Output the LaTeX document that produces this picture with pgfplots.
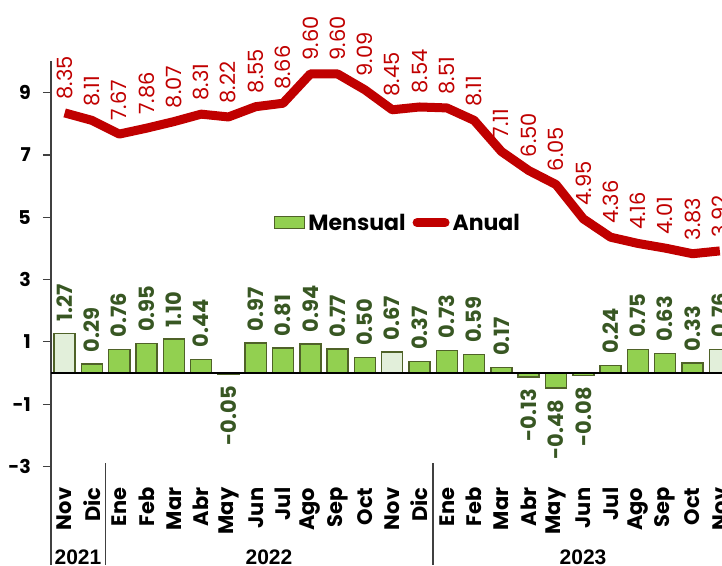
\documentclass[border=0pt]{standalone}
\usepackage{fontspec}
\setmainfont{Poppins}
\newfontfamily\yearfont{Liberation Sans}
\usepackage{pgfplots}
\usepackage{pgfplotstable}
\pgfplotsset{compat=1.18}
\definecolor{barfill}{RGB}{146,208,80}
\definecolor{baredge}{RGB}{79,98,40}
\definecolor{barlight}{RGB}{226,239,218}
\definecolor{lblgreen}{RGB}{56,87,35}
\definecolor{anual}{RGB}{192,0,0}

% monthly, positive values
\pgfplotstableread{
x y
1 0.29
2 0.76
3 0.95
4 1.10
5 0.44
7 0.97
8 0.81
9 0.94
10 0.77
11 0.50
13 0.37
14 0.73
15 0.59
16 0.17
20 0.24
21 0.75
22 0.63
23 0.33
}\mensualpos

% monthly, negative values
\pgfplotstableread{
x y
6 -0.05
17 -0.13
18 -0.48
19 -0.08
}\mensualneg

% monthly, highlighted November bars
\pgfplotstableread{
x y
0 1.27
12 0.67
24 0.76
}\mensualnov

\pgfplotstableread{
x y
0 8.35
1 8.11
2 7.67
3 7.86
4 8.07
5 8.31
6 8.22
7 8.55
8 8.66
9 9.60
10 9.60
11 9.09
12 8.45
13 8.54
14 8.51
15 8.11
16 7.11
17 6.50
18 6.05
19 4.95
20 4.36
21 4.16
22 4.01
23 3.83
24 3.92
}\anualdata

\pgfplotsset{
  barlbl/.style={
    nodes near coords={\pgfmathprintnumber[fixed,fixed zerofill,precision=2]{\pgfplotspointmeta}},
    every node near coord/.append style={rotate=90, anchor=#1, inner xsep=11pt, inner ysep=0pt,
      text=lblgreen, font=\fontsize{21}{24}\selectfont\bfseries}},
}

\begin{document}
\begin{tikzpicture}
\begin{axis}[
  at={(51pt,0pt)}, anchor=south west,
  scale only axis, width=671pt, height=405pt,
  xmin=-0.5, xmax=24.08, ymin=-3, ymax=10,
  clip=false,
  axis x line=bottom, axis y line=left,
  x axis line style={draw=none},
  y axis line style={draw=black!75, line width=1.2pt, -},
  xtick={0,...,24},
  xticklabels={Nov,Dic,Ene,Feb,Mar,Abr,May,Jun,Jul,Ago,Sep,Oct,Nov,Dic,Ene,Feb,Mar,Abr,May,Jun,Jul,Ago,Sep,Oct,Nov},
  major x tick style={draw=none},
  xticklabel style={rotate=90, anchor=east, inner sep=0pt, font=\fontsize{21}{24}\selectfont\bfseries},
  xticklabel shift=13pt,
  ytick={-3,-1,1,3,5,7,9},
  tick align=outside, major tick length=8pt,
  major y tick style={draw=black!75, line width=1.2pt},
  yticklabel style={inner sep=0pt, font=\fontsize{19}{22}\selectfont\bfseries},
  yticklabel shift=12pt,
  /pgf/number format/assume math mode=true,
  legend style={at={(0.332,0.602)}, anchor=west, draw=none, fill=none, inner sep=0pt,
    legend columns=-1, font=\fontsize{22}{26}\selectfont\bfseries,
    /tikz/every odd column/.style={column sep=0pt},
    /tikz/every even column/.style={column sep=4pt},
    nodes={inner xsep=3pt, inner ysep=0pt}},
]
\addplot[ybar, bar shift=0pt, bar width=0.77, fill=barfill, draw=baredge, line width=1.5pt,
  barlbl=west,
  legend image code/.code={\draw[fill=barfill, draw=baredge, line width=1.5pt] (0pt,-6pt) rectangle (30pt,6pt);}
] table[x=x, y=y] {\mensualpos};
\addlegendentry{Mensual}
\addplot[ybar, bar shift=0pt, bar width=0.77, fill=barfill, draw=baredge, line width=1.5pt, forget plot,
  barlbl=east] table[x=x, y=y] {\mensualneg};
\addplot[ybar, bar shift=0pt, bar width=0.77, fill=barlight, draw=baredge, line width=1.5pt, forget plot,
  barlbl=west] table[x=x, y=y] {\mensualnov};
\draw[black, line width=1.3pt] (axis cs:-0.5,0) -- (axis cs:24.08,0);
\addplot[anual, line width=9pt, line join=round, mark=none,
  nodes near coords={\pgfmathprintnumber[fixed,fixed zerofill,precision=2]{\pgfplotspointmeta}},
  every node near coord/.append style={rotate=90, anchor=west, inner xsep=9pt, inner ysep=0pt,
    text=anual, font=\fontsize{21}{24}\selectfont},
  legend image code/.code={\draw[anual, line width=9pt, line cap=round] (4.5pt,0pt) -- (32.5pt,0pt);}
] table[x=x, y=y] {\anualdata};
\addlegendentry{Anual}
\end{axis}
% category group separators and years
\draw[black!75, line width=1.2pt] (51pt,0pt) -- (51pt,-98.5pt);
\draw[black!75, line width=1.2pt] (105.6pt,3.5pt) -- (105.6pt,-98.5pt);
\draw[black!75, line width=1.2pt] (433pt,3.5pt) -- (433pt,-98.5pt);
\node[anchor=north, inner sep=0pt, font=\fontsize{21}{24}\yearfont\bfseries] at (78pt,-83pt) {2021};
\node[anchor=north, inner sep=0pt, font=\fontsize{21}{24}\yearfont\bfseries] at (269pt,-83pt) {2022};
\node[anchor=north, inner sep=0pt, font=\fontsize{21}{24}\yearfont\bfseries] at (583pt,-83pt) {2023};
\pgfresetboundingbox
\path[use as bounding box] (0pt,-98.5pt) rectangle (722pt,466.5pt);
\end{tikzpicture}
\end{document}
